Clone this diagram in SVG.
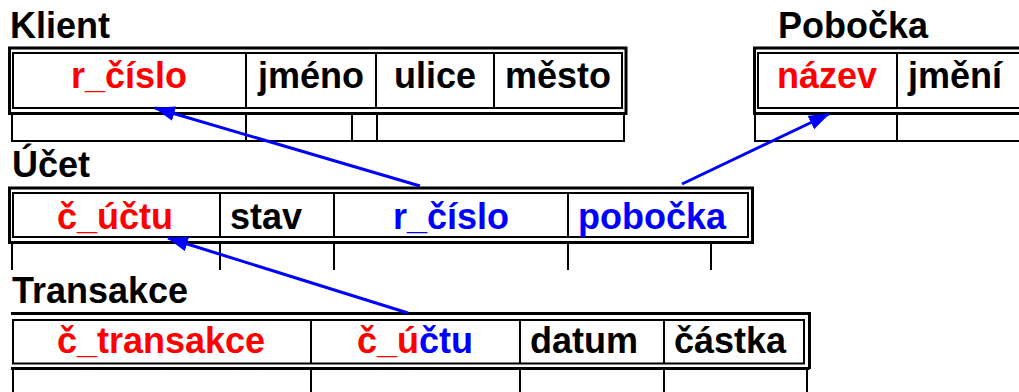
<svg xmlns="http://www.w3.org/2000/svg" width="1019" height="392" viewBox="0 0 1019 392">
<style>
text{font-family:"Liberation Sans",Arial,sans-serif;font-weight:bold;font-size:36px;fill:#000}
.c{text-anchor:middle}
.red{fill:#FF0000}
.blue{fill:#0000FF}
.outer{fill:none;stroke:#000;stroke-width:3}
.inner{fill:none;stroke:#000;stroke-width:2}
.ln{stroke:#000;stroke-width:2;fill:none}
.conn{stroke:#0000FF;stroke-width:3;fill:none}
</style>
<defs>
<marker id="ah" markerUnits="userSpaceOnUse" markerWidth="24" markerHeight="16" refX="20" refY="7.5" orient="auto">
<path d="M0,0 L21,7.5 L0,15 z" fill="#0000FF"/>
</marker>
</defs>
<rect width="1019" height="392" fill="#fff"/>
<g id="klient">
<text x="10" y="38">Klient</text>
<rect class="outer" x="9.5" y="48" width="616.5" height="65.5"/>
<rect class="inner" x="13" y="53" width="609" height="55"/>
<path class="ln" d="M246,53V108M376,53V108M494,53V108"/>
<path class="ln" d="M12,115V142M624,115V142M12,141H624M246,115V141M352,115V141M377,115V141"/>
<text class="c red" x="129" y="88">r_číslo</text>
<text class="c" x="311" y="88">jméno</text>
<text class="c" x="435" y="88">ulice</text>
<text class="c" x="558" y="88">město</text>
</g>
<g id="pobocka">
<text x="778" y="38">Pobočka</text>
<rect class="outer" x="754.5" y="48" width="290" height="65.5"/>
<rect class="inner" x="758" y="53" width="280" height="55"/>
<path class="ln" d="M897,53V108"/>
<path class="ln" d="M755,115V142M755,141H1030M897,115V141"/>
<text class="c red" x="827" y="88">název</text>
<text class="c" x="955" y="88">jmění</text>
</g>
<g id="ucet">
<text x="12" y="177">Účet</text>
<rect class="outer" x="9.5" y="188" width="743" height="54.5"/>
<rect class="inner" x="13" y="193" width="735" height="44"/>
<path class="ln" d="M220,193V237M334,193V237M568,193V237"/>
<path class="ln" d="M12,244V270M220,244V270M334,244V270M568,244V270M711,244V270"/>
<text class="c red" x="115" y="229">č_účtu</text>
<text class="c" x="266" y="229">stav</text>
<text class="c blue" x="451" y="229">r_číslo</text>
<text class="c blue" x="652" y="229">pobočka</text>
</g>
<g id="transakce">
<text x="12" y="303">Transakce</text>
<path class="outer" d="M11,313.5H809.5V369"/>
<rect class="inner" x="13" y="320" width="791" height="43.5"/>
<path class="outer" d="M11,368.5H809.5"/>
<path class="ln" d="M311,320V363M520,320V363M664,320V363"/>
<path class="ln" d="M13,370V392M311,370V392M520,370V392M664,370V392M807,370V392"/>
<text class="c" x="161" y="353"><tspan class="red">č_transakce</tspan></text>
<text class="c" x="415" y="353"><tspan class="red">č_ú</tspan><tspan class="blue">čtu</tspan></text>
<text class="c" x="584" y="353">datum</text>
<text class="c" x="730" y="353">částka</text>
</g>
<g id="connectors">
<line class="conn" x1="420" y1="186" x2="155" y2="108" marker-end="url(#ah)"/>
<line class="conn" x1="682" y1="184" x2="829" y2="114" marker-end="url(#ah)"/>
<line class="conn" x1="408" y1="313" x2="168" y2="238" marker-end="url(#ah)"/>
</g>
</svg>
